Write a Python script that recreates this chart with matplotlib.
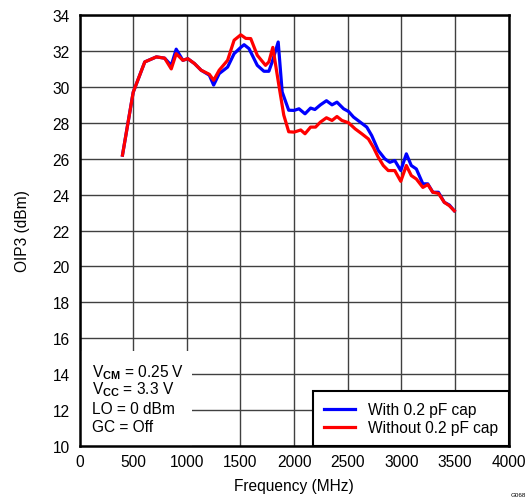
import matplotlib
matplotlib.use("Agg")
import matplotlib.pyplot as plt
from matplotlib.patches import Rectangle

plt.rcParams['font.family'] = ['Liberation Sans', 'DejaVu Sans']
plt.rcParams['mathtext.fontset'] = 'custom'
plt.rcParams['mathtext.rm'] = 'Liberation Sans'
plt.rcParams['mathtext.bf'] = 'Liberation Sans:bold'

# With 0.2 pF cap
f_with = [400, 500, 608, 716, 793, 855, 901, 963, 1009, 1071, 1133, 1210, 1250,
          1302, 1380, 1441, 1503, 1534, 1580, 1657, 1719, 1765, 1796, 1852, 1889,
          1950, 2000, 2046, 2102, 2154, 2194, 2246, 2302, 2354, 2400, 2462, 2508,
          2554, 2616, 2678, 2724, 2785, 2847, 2893, 2939, 2995, 3047, 3093, 3140,
          3201, 3247, 3294, 3346, 3401, 3448, 3494]
oip3_with = [26.2, 29.7, 31.39, 31.67, 31.6, 31.2, 32.1, 31.48, 31.57, 31.3, 30.93,
             30.65, 30.1, 30.74, 31.1, 31.85, 32.2, 32.35, 32.13, 31.2, 30.87, 30.87,
             31.39, 32.5, 29.72, 28.7, 28.69, 28.78, 28.5, 28.82, 28.74, 29.0, 29.23,
             29.0, 29.15, 28.78, 28.63, 28.32, 28.04, 27.76, 27.29, 26.46, 25.99, 25.8,
             25.9, 25.34, 26.27, 25.62, 25.43, 24.6, 24.6, 24.13, 24.13, 23.57, 23.42,
             23.1]

# Without 0.2 pF cap
f_without = [400, 500, 608, 716, 793, 855, 901, 963, 1009, 1071, 1133, 1210, 1250,
             1302, 1380, 1441, 1503, 1550, 1596, 1657, 1734, 1765, 1802, 1858, 1904,
             1950, 2000, 2062, 2102, 2154, 2200, 2246, 2302, 2354, 2400, 2446, 2508,
             2570, 2631, 2693, 2739, 2785, 2832, 2878, 2939, 2995, 3047, 3093, 3140,
             3201, 3247, 3294, 3346, 3401, 3448, 3494]
oip3_without = [26.2, 29.7, 31.39, 31.67, 31.6, 31.0, 31.85, 31.48, 31.57, 31.3, 30.93,
                30.7, 30.37, 30.93, 31.48, 32.6, 32.9, 32.7, 32.69, 31.76, 31.2, 31.39,
                32.2, 30.1, 28.43, 27.5, 27.48, 27.6, 27.39, 27.76, 27.76, 28.04, 28.28,
                28.13, 28.35, 28.13, 28.0, 27.66, 27.39, 27.1, 26.64, 26.08, 25.62, 25.34,
                25.34, 24.74, 25.62, 25.06, 24.87, 24.4, 24.56, 24.13, 24.07, 23.57, 23.38,
                23.1]

conditions = [r'V$_{\mathbf{CM}}$ = 0.25 V', r'V$_{\mathbf{CC}}$ = 3.3 V',
              'LO = 0 dBm', 'GC = Off']
cond_y = [14.12, 13.17, 12.06, 11.06]

fs = 11.2
fig = plt.figure(figsize=(5.27, 5.02), dpi=100)
ax = fig.add_axes([0.151, 0.1096, 0.814, 0.8584])

ax.plot(f_with, oip3_with, color='#0000ff', lw=2.3, label='With 0.2 pF cap', zorder=3)
ax.plot(f_without, oip3_without, color='#ff0000', lw=2.3, label='Without 0.2 pF cap', zorder=4)

ax.set_xlim(0, 4000)
ax.set_ylim(10, 34)
ax.set_xticks(range(0, 4001, 500))
ax.set_yticks(range(10, 35, 2))
ax.set_axisbelow(True)
ax.grid(True, color='#404040', lw=1.0)
ax.tick_params(length=0, labelsize=fs)
ax.tick_params(axis='y', pad=7)
ax.tick_params(axis='x', pad=6)
for s in ax.spines.values():
    s.set_linewidth(1.8)

# white area behind the test conditions
ax.add_patch(Rectangle((0, 10), 1045, 5.29, facecolor='white', edgecolor='none', zorder=1))
for txt, yy in zip(conditions, cond_y):
    ax.text(120, yy, txt, fontsize=fs, ha='left', va='center', zorder=5)

ax.set_xlabel('Frequency (MHz)', fontsize=fs, labelpad=6)
ax.set_ylabel('OIP3 (dBm)', fontsize=fs, labelpad=16)

leg = ax.legend(loc='lower right', fontsize=fs, fancybox=False, borderaxespad=0,
                handlelength=2.0, handletextpad=0.8, borderpad=0.7, labelspacing=0.2,
                framealpha=1)
leg.get_frame().set_edgecolor('black')
leg.get_frame().set_linewidth(1.5)

fig.text(0.968, 0.008, 'G068', fontsize=4.5, ha='left', va='bottom')

fig.savefig('out.png', dpi=100)
